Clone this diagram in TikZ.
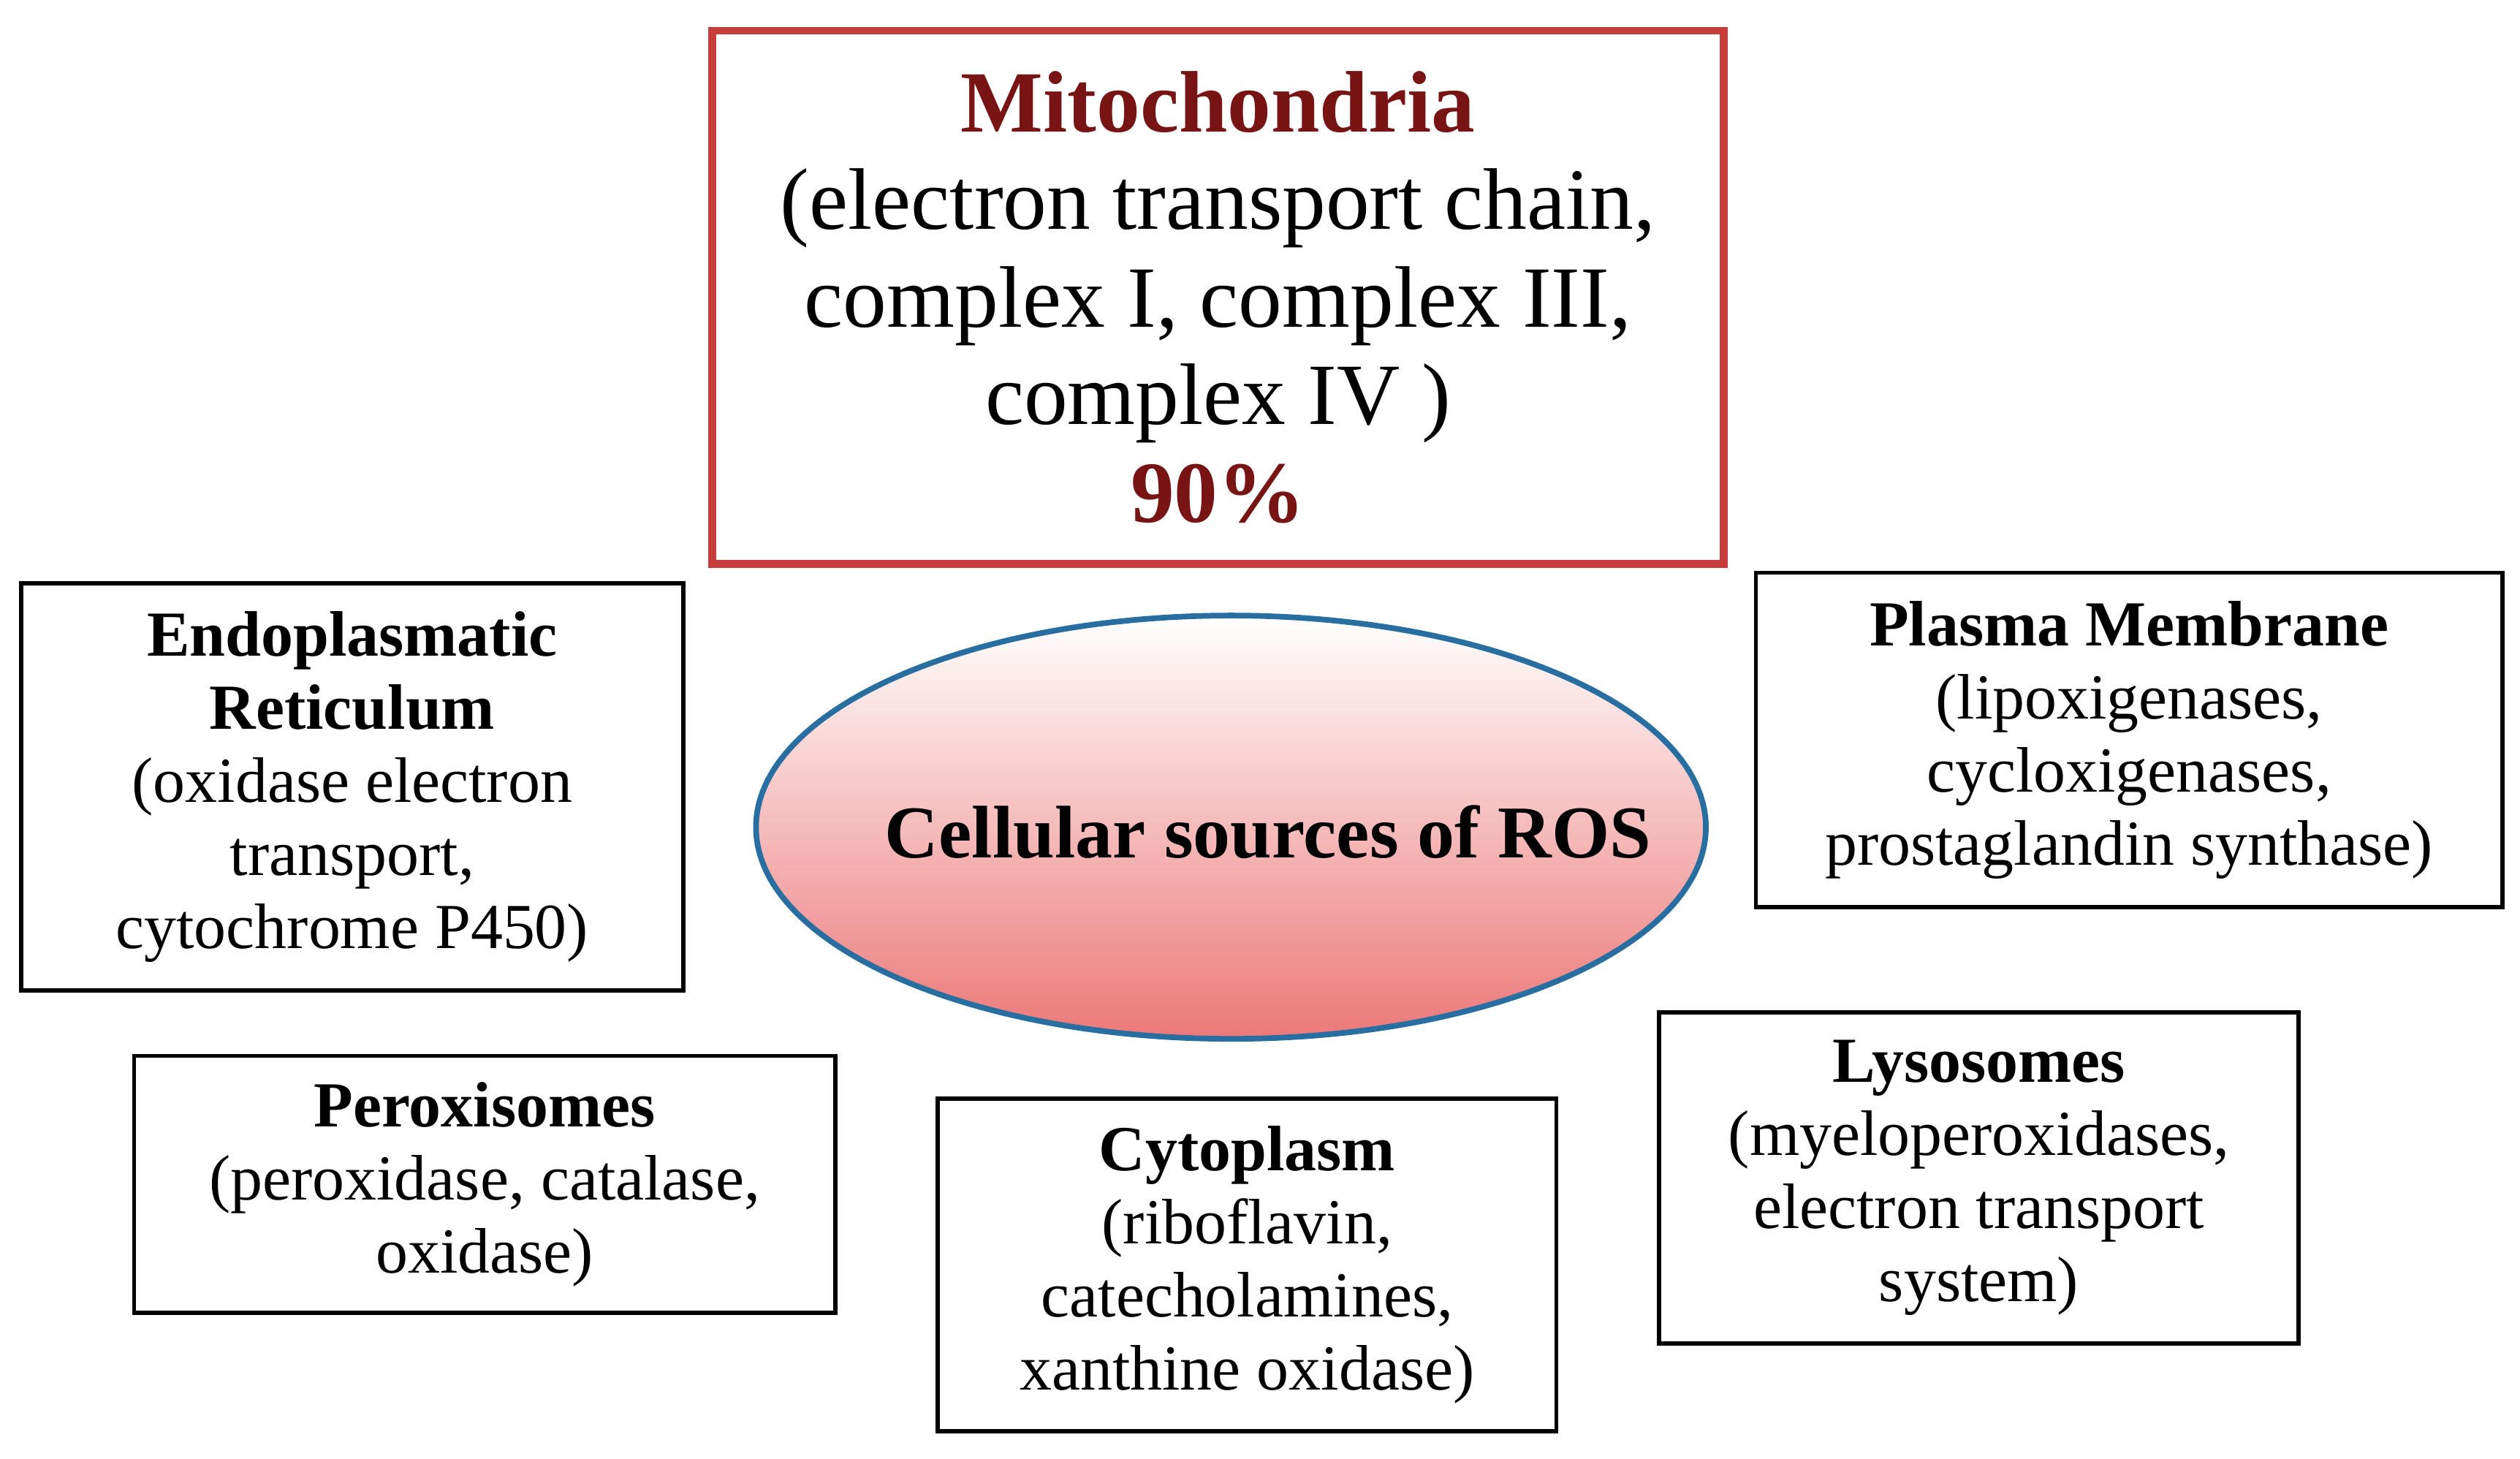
\documentclass[tikz,border=0pt]{standalone}
\usepackage{fontspec}
\setmainfont{Liberation Serif}
\usetikzlibrary{shapes.geometric}
\definecolor{mred}{RGB}{200,60,60}
\definecolor{mtext}{RGB}{120,20,20}
\definecolor{eblue}{RGB}{40,110,160}
\definecolor{epink}{RGB}{236,120,120}
\begin{document}
\begin{tikzpicture}[x=0.629pt,y=-0.629pt,
  box/.style={draw=black,line width=1.6pt,align=center,font=\fontsize{25}{28.5}\selectfont,inner sep=0pt},
]
\useasboundingbox (0,0) rectangle (1560,903);
\node[draw=mred,line width=3pt,align=center,minimum width=626*0.629pt,minimum height=330*0.629pt,font=\fontsize{34}{38}\selectfont,inner sep=0pt] (mito) at (754,184)
 {\textcolor{mtext}{\textbf{Mitochondria}}\\(electron transport chain,\\complex I, complex III,\\complex IV )\\\textcolor{mtext}{\textbf{90\%}}};
\node[box,minimum width=410*0.629pt,minimum height=252*0.629pt] (er) at (218,487)
 {\textbf{Endoplasmatic}\\\textbf{Reticulum}\\(oxidase electron\\transport,\\cytochrome P450)};
\node[box,minimum width=462*0.629pt,minimum height=207*0.629pt] (pm) at (1318,458)
 {\textbf{Plasma Membrane}\\(lipoxigenases,\\cycloxigenases,\\prostaglandin synthase)};
\node[ellipse,draw=eblue,line width=2.2pt,top color=white,bottom color=epink,minimum width=588*0.629pt,minimum height=262*0.629pt,inner sep=0pt] (ros) at (762,512) {};
\node[font=\fontsize{29}{32}\selectfont\bfseries] (rost) at (785,515) {Cellular sources of ROS};
\node[box,minimum width=434*0.629pt,minimum height=159*0.629pt] (per) at (300,733)
 {\textbf{Peroxisomes}\\(peroxidase, catalase,\\oxidase)};
\node[box,minimum width=383*0.629pt,minimum height=206*0.629pt] (cyt) at (772,783)
 {\textbf{Cytoplasm}\\(riboflavin,\\catecholamines,\\xanthine oxidase)};
\node[box,minimum width=396*0.629pt,minimum height=205*0.629pt] (lys) at (1225,729)
 {\textbf{Lysosomes}\\(myeloperoxidases,\\electron transport\\system)};
\end{tikzpicture}
\end{document}
